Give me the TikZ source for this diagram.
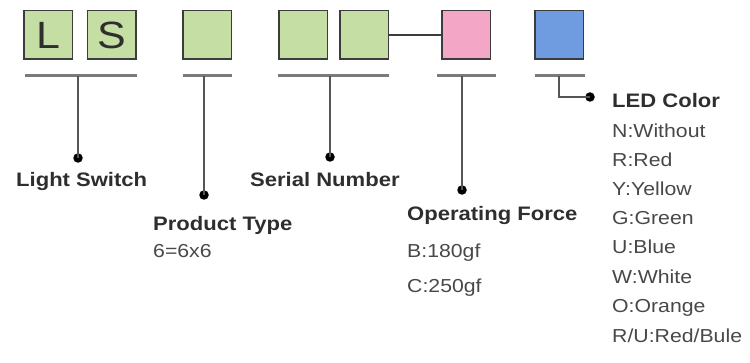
\documentclass[tikz,border=0pt]{standalone}
\usepackage{fontspec}
\setmainfont{Liberation Sans}[FakeStretch=1.13]
\usetikzlibrary{positioning}
\definecolor{keygreen}{HTML}{C4DEA3}
\definecolor{keypink}{HTML}{F3A6C6}
\definecolor{keyblue}{HTML}{6F9BE0}
\definecolor{boxline}{HTML}{3C3C3C}
\definecolor{bargray}{HTML}{7A7A7A}
\definecolor{leadgray}{HTML}{555555}
\definecolor{titlegray}{HTML}{2E2E2E}
\definecolor{itemgray}{HTML}{484848}

\begin{document}
\begin{tikzpicture}[x=1pt, y=-1pt,
  key/.style={rectangle, draw=boxline, line width=1.5pt, minimum size=48.5pt, inner sep=0pt,
    text=titlegray, font=\fontsize{38}{38}\selectfont},
  bar/.style={line width=3pt, draw=bargray},
  lead/.style={line width=2pt, draw=leadgray},
  dot/.style={circle, fill=black, minimum size=9.5pt, inner sep=0pt},
  title/.style={inner sep=0pt, anchor=base west, text=titlegray, font=\bfseries\fontsize{19.5}{20}\selectfont},
  item/.style={inner sep=0pt, anchor=base west, text=itemgray, font=\fontsize{18.8}{19}\selectfont}]
  \useasboundingbox (0,0) rectangle (750,363);

  \node[key, fill=keygreen] (kl) at (48,35)    {L};
  \node[key, fill=keygreen] (ks) at (111.5,35) {S};
  \node[key, fill=keygreen] (kp) at (207,35)   {};
  \node[key, fill=keygreen] (kn1) at (303,35)  {};
  \node[key, fill=keygreen] (kn2) at (364,35)  {};
  \node[key, fill=keypink]  (kf) at (466,35)   {};
  \node[key, fill=keyblue]  (kc) at (559,35)   {};
  \draw[line width=1.5pt, boxline] (kn2) -- (kf);

  \draw[bar] (25,76) -- (137,76);
  \draw[bar] (183,76) -- (232,76);
  \draw[bar] (278,76) -- (389,76);
  \draw[bar] (437,76) -- (496,76);
  \draw[bar] (535,76) -- (585,76);

  \coordinate (lsbar) at (78,76);
  \coordinate (ptbar) at (204,76);
  \coordinate (snbar) at (330,76);
  \coordinate (ofbar) at (462,76);
  \coordinate (lcbar) at (559,76);

  \node[dot] (lsdot) at (78,158)  {};
  \node[dot] (ptdot) at (204,195) {};
  \node[dot] (sndot) at (330,157) {};
  \node[dot] (ofdot) at (462,190) {};
  \node[dot] (lcdot) at (590,97)  {};

  \draw[lead] (lsbar) -- (lsdot.center);
  \draw[lead] (ptbar) -- (ptdot.center);
  \draw[lead] (snbar) -- (sndot.center);
  \draw[lead] (ofbar) -- (ofdot.center);
  \draw[lead] (lcbar) |- (lcdot.center);

  \node[title] (ls) at (16,187)  {Light Switch};
  \node[title] (sn) at (250,187) {Serial Number};
  \node[title] (pt) at (153,231) {Product Type};
  \node[item]  (pt6) at (153,258) {6=6x6};
  \node[title] (of) at (407,221) {Operating Force};
  \node[item]  (ofb) at (407,258) {B:180gf};
  \node[item]  (ofc) at (407,293) {C:250gf};
  \node[title] (lc) at (612,108) {LED Color};
  \node[item]  (lcn) at (612,138) {N:Without};
  \node[item]  (lcr) at (612,167) {R:Red};
  \node[item]  (lcy) at (612,196) {Y:Yellow};
  \node[item]  (lcg) at (612,225) {G:Green};
  \node[item]  (lcu) at (612,254) {U:Blue};
  \node[item]  (lcw) at (612,284) {W:White};
  \node[item]  (lco) at (612,313) {O:Orange};
  \node[item]  (lcru) at (612,343) {R/U:Red/Bule};
\end{tikzpicture}
\end{document}
